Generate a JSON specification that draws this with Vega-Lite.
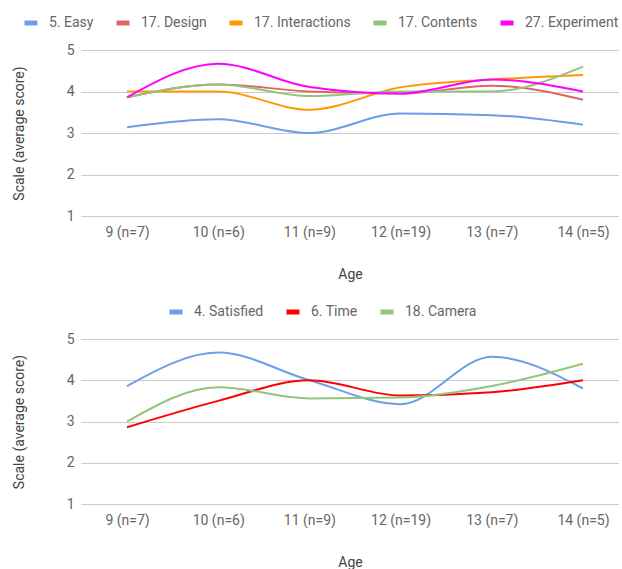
{
  "$schema": "https://vega.github.io/schema/vega-lite/v6.json",
  "padding": {"left": 12, "top": 14, "right": 0, "bottom": 0},
  "background": "white",
  "bounds": "flush",
  "spacing": 123,
  "datasets": {
    "top": [
      {"age": "9 (n=7)", "series": "5. Easy", "score": 3.14},
      {"age": "10 (n=6)", "series": "5. Easy", "score": 3.33},
      {"age": "11 (n=9)", "series": "5. Easy", "score": 3.0},
      {"age": "12 (n=19)", "series": "5. Easy", "score": 3.47},
      {"age": "13 (n=7)", "series": "5. Easy", "score": 3.43},
      {"age": "14 (n=5)", "series": "5. Easy", "score": 3.2},
      {"age": "9 (n=7)", "series": "17. Design", "score": 3.86},
      {"age": "10 (n=6)", "series": "17. Design", "score": 4.17},
      {"age": "11 (n=9)", "series": "17. Design", "score": 4.0},
      {"age": "12 (n=19)", "series": "17. Design", "score": 3.95},
      {"age": "13 (n=7)", "series": "17. Design", "score": 4.14},
      {"age": "14 (n=5)", "series": "17. Design", "score": 3.8},
      {"age": "9 (n=7)", "series": "17. Interactions", "score": 4.0},
      {"age": "10 (n=6)", "series": "17. Interactions", "score": 4.0},
      {"age": "11 (n=9)", "series": "17. Interactions", "score": 3.56},
      {"age": "12 (n=19)", "series": "17. Interactions", "score": 4.1},
      {"age": "13 (n=7)", "series": "17. Interactions", "score": 4.29},
      {"age": "14 (n=5)", "series": "17. Interactions", "score": 4.4},
      {"age": "9 (n=7)", "series": "17. Contents", "score": 3.86},
      {"age": "10 (n=6)", "series": "17. Contents", "score": 4.17},
      {"age": "11 (n=9)", "series": "17. Contents", "score": 3.89},
      {"age": "12 (n=19)", "series": "17. Contents", "score": 4.0},
      {"age": "13 (n=7)", "series": "17. Contents", "score": 4.0},
      {"age": "14 (n=5)", "series": "17. Contents", "score": 4.6},
      {"age": "9 (n=7)", "series": "27. Experiment", "score": 3.86},
      {"age": "10 (n=6)", "series": "27. Experiment", "score": 4.67},
      {"age": "11 (n=9)", "series": "27. Experiment", "score": 4.11},
      {"age": "12 (n=19)", "series": "27. Experiment", "score": 3.95},
      {"age": "13 (n=7)", "series": "27. Experiment", "score": 4.29},
      {"age": "14 (n=5)", "series": "27. Experiment", "score": 4.0}
    ],
    "bottom": [
      {"age": "9 (n=7)", "series": "4. Satisfied", "score": 3.86},
      {"age": "10 (n=6)", "series": "4. Satisfied", "score": 4.67},
      {"age": "11 (n=9)", "series": "4. Satisfied", "score": 4.0},
      {"age": "12 (n=19)", "series": "4. Satisfied", "score": 3.42},
      {"age": "13 (n=7)", "series": "4. Satisfied", "score": 4.57},
      {"age": "14 (n=5)", "series": "4. Satisfied", "score": 3.8},
      {"age": "9 (n=7)", "series": "6. Time", "score": 2.86},
      {"age": "10 (n=6)", "series": "6. Time", "score": 3.5},
      {"age": "11 (n=9)", "series": "6. Time", "score": 4.0},
      {"age": "12 (n=19)", "series": "6. Time", "score": 3.63},
      {"age": "13 (n=7)", "series": "6. Time", "score": 3.71},
      {"age": "14 (n=5)", "series": "6. Time", "score": 4.0},
      {"age": "9 (n=7)", "series": "18. Camera", "score": 3.0},
      {"age": "10 (n=6)", "series": "18. Camera", "score": 3.83},
      {"age": "11 (n=9)", "series": "18. Camera", "score": 3.56},
      {"age": "12 (n=19)", "series": "18. Camera", "score": 3.58},
      {"age": "13 (n=7)", "series": "18. Camera", "score": 3.86},
      {"age": "14 (n=5)", "series": "18. Camera", "score": 4.4}
    ]
  },
  "vconcat": [
    {
      "width": 538,
      "height": 166,
      "data": {"name": "top"},
      "mark": {"type": "line", "interpolate": "monotone", "strokeWidth": 2},
      "encoding": {
        "x": {
          "field": "age", "type": "nominal", "sort": null,
          "scale": {"type": "point", "padding": 0.45, "align": 0.561},
          "axis": {"title": "Age", "labelAngle": 0}
        },
        "y": {
          "field": "score", "type": "quantitative",
          "scale": {"domain": [1, 5], "nice": false, "zero": false},
          "axis": {"title": "Scale (average score)", "values": [1, 2, 3, 4, 5]}
        },
        "color": {
          "field": "series", "type": "nominal",
          "scale": {
            "domain": ["5. Easy", "17. Design", "17. Interactions", "17. Contents", "27. Experiment"],
            "range": ["#6d9eeb", "#e06666", "#ff9900", "#93c47d", "#ff00ff"]
          },
          "legend": {"orient": "none", "legendX": -59, "legendY": -36, "direction": "horizontal", "title": null}
        }
      }
    },
    {
      "width": 538,
      "height": 165,
      "data": {"name": "bottom"},
      "mark": {"type": "line", "interpolate": "monotone", "strokeWidth": 2},
      "encoding": {
        "x": {
          "field": "age", "type": "nominal", "sort": null,
          "scale": {"type": "point", "padding": 0.45, "align": 0.561},
          "axis": {"title": "Age", "labelAngle": 0}
        },
        "y": {
          "field": "score", "type": "quantitative",
          "scale": {"domain": [1, 5], "nice": false, "zero": false},
          "axis": {"title": "Scale (average score)", "values": [1, 2, 3, 4, 5]}
        },
        "color": {
          "field": "series", "type": "nominal",
          "scale": {
            "domain": ["4. Satisfied", "6. Time", "18. Camera"],
            "range": ["#6d9eeb", "#ff0000", "#93c47d"]
          },
          "legend": {"orient": "none", "legendX": 86, "legendY": -36, "direction": "horizontal", "title": null}
        }
      }
    }
  ],
  "resolve": {"scale": {"color": "independent", "x": "independent", "y": "independent"}, "legend": {"color": "independent"}},
  "config": {
    "font": "Roboto",
    "view": {"stroke": null},
    "axis": {
      "labelFont": "Roboto", "labelFontSize": 14, "labelColor": "#666666",
      "titleFont": "Roboto", "titleFontSize": 14, "titleFontWeight": "normal", "titleColor": "#444444",
      "domain": false, "ticks": false, "gridColor": "#cccccc"
    },
    "axisX": {"grid": false, "labelPadding": 9, "titlePadding": 28},
    "axisY": {"grid": true, "labelPadding": 7, "titlePadding": 40},
    "legend": {
      "labelFont": "Roboto", "labelFontSize": 14, "labelColor": "#666666",
      "symbolType": "stroke", "symbolStrokeWidth": 5, "symbolSize": 169,
      "columnPadding": 12, "labelOffset": 9
    }
  }
}
